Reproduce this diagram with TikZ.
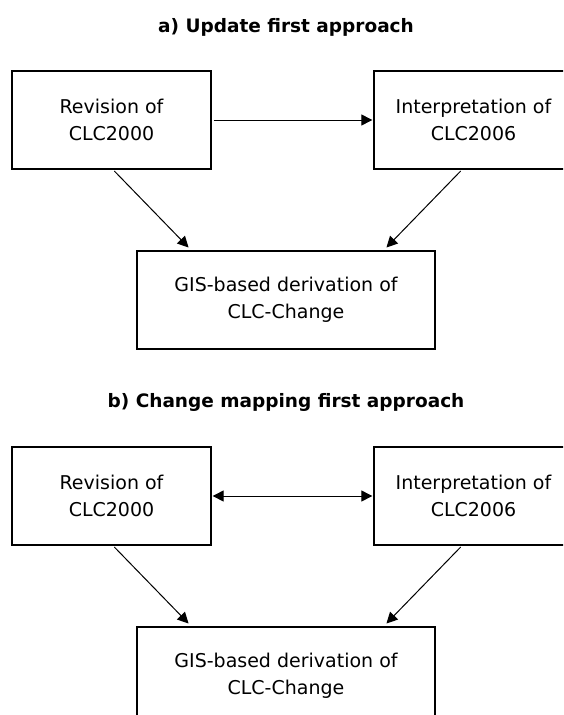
\documentclass[tikz,border=0pt]{standalone}
\usepackage{fontspec}
\setmainfont{DejaVu Sans}
\usetikzlibrary{arrows.meta, positioning, calc}

\begin{document}
\begin{tikzpicture}[
  x=1pt, y=-1pt,
  stage/.style={rectangle, draw=black, line width=1.3pt, align=center,
                minimum width=199pt, minimum height=98pt, inner sep=0pt},
  flow/.style={-{Triangle[length=11pt, width=11pt]}, line width=1pt},
  heading/.style={font=\bfseries\fontsize{18.5}{22}\selectfont},
  every node/.style={font=\fontsize{19}{27}\selectfont}
]
  \clip (0,0) rectangle (563,715);

  \node[heading] (Ta) at (286,27) {a) Update first approach};
  \node[stage] (A1) at (111.5,120) {Revision of\\CLC2000};
  \node[stage] (B1) at (473.5,120) {Interpretation of\\CLC2006};
  \node[stage, minimum width=298pt] (C1) at (286,300) {GIS-based derivation of\\CLC-Change};

  \draw[flow, shorten <=2pt, shorten >=1pt, yshift=2pt] (A1.east) -- (B1.west);
  \draw[flow, shorten <=2pt, shorten >=4pt] ($(A1.south)+(1.5,0)$) -- ($(C1.north west)+(55,0)$);
  \draw[flow, shorten <=2pt, shorten >=4pt] ($(B1.south)+(-11.5,0)$) -- ($(C1.north east)+(-52,0)$);

  \node[heading] (Tb) at (286,402) {b) Change mapping first approach};
  \node[stage] (A2) at (111.5,496) {Revision of\\CLC2000};
  \node[stage] (B2) at (473.5,496) {Interpretation of\\CLC2006};
  \node[stage, minimum width=298pt] (C2) at (286,676) {GIS-based derivation of\\CLC-Change};

  \draw[flow, {Triangle[length=11pt, width=11pt]}-{Triangle[length=11pt, width=11pt]},
        shorten <=1pt, shorten >=1pt] (A2.east) -- (B2.west);
  \draw[flow, shorten <=2pt, shorten >=4pt] ($(A2.south)+(1.5,0)$) -- ($(C2.north west)+(55,0)$);
  \draw[flow, shorten <=2pt, shorten >=4pt] ($(B2.south)+(-11.5,0)$) -- ($(C2.north east)+(-52,0)$);
\end{tikzpicture}
\end{document}
